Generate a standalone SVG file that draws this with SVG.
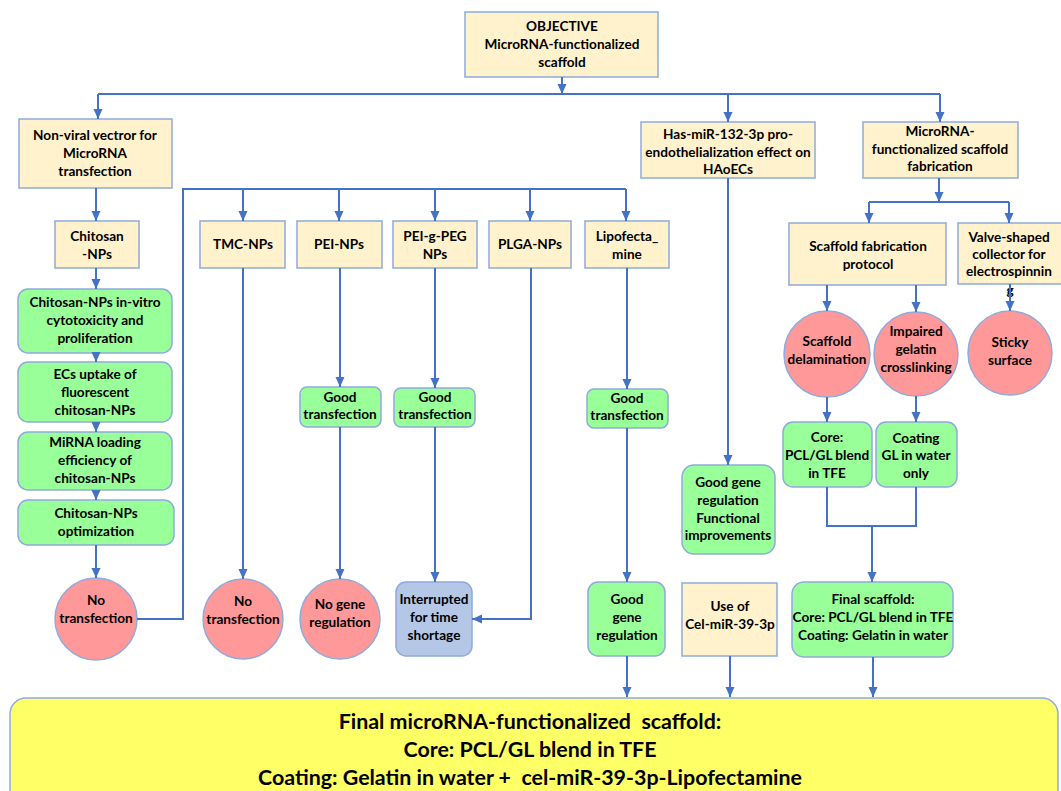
<svg xmlns="http://www.w3.org/2000/svg" width="1061" height="791" viewBox="0 0 1061 791">
<defs>
<marker id="ah" markerUnits="userSpaceOnUse" markerWidth="10" markerHeight="10" viewBox="0 0 10 10" refX="10" refY="5" orient="auto">
<path d="M0,0.5 L10,5 L0,9.5 Z" fill="#4472c4"/>
</marker>
<style>
.box{fill:#fff2cc;stroke:#8faadc;stroke-width:1.5}
.gr{fill:#99ff99;stroke:#8faadc;stroke-width:1.5}
.rd{fill:#ff9999;stroke:#8faadc;stroke-width:1.5}
.bl{fill:#b4c7e7;stroke:#8faadc;stroke-width:1.5}
.ye{fill:#ffff66;stroke:#8faadc;stroke-width:1.5}
text{font-family:Lato,"Liberation Sans",sans-serif;font-weight:bold;font-size:13.6px;text-anchor:middle;fill:#000}
.big{font-size:21.4px}
.c{fill:none;stroke:#4472c4;stroke-width:2}
.a{marker-end:url(#ah)}
</style>
</defs>
<rect width="1061" height="791" fill="#fff"/>

<g id="objective"><rect class="box" x="465" y="12" width="193" height="65"/>
<text x="562" y="31">OBJECTIVE</text><text x="562" y="49">MicroRNA-functionalized</text><text x="562" y="67">scaffold</text></g>

<g id="nonviral"><rect class="box" x="19" y="119" width="153" height="69"/>
<text x="95" y="140">Non-viral vectror for</text><text x="95" y="158">MicroRNA</text><text x="95" y="176">transfection</text></g>

<g id="chitosan"><rect class="box" x="55" y="221" width="84" height="47"/>
<text x="97" y="241">Chitosan</text><text x="97" y="259">-NPs</text></g>

<g id="tmc"><rect class="box" x="200" y="221" width="85" height="47"/><text x="243" y="249">TMC-NPs</text></g>
<g id="pei"><rect class="box" x="297" y="221" width="85" height="47"/><text x="339" y="249">PEI-NPs</text></g>
<g id="peipeg"><rect class="box" x="393" y="221" width="84" height="47"/><text x="435" y="241">PEI-g-PEG</text><text x="435" y="259">NPs</text></g>
<g id="plga"><rect class="box" x="489" y="221" width="82" height="47"/><text x="530" y="249">PLGA-NPs</text></g>
<g id="lipo"><rect class="box" x="585" y="221" width="84" height="47"/><text x="627" y="241">Lipofecta_</text><text x="627" y="259">mine</text></g>

<g id="hasmir"><rect class="box" x="641" y="122" width="174" height="56"/>
<text x="728" y="139">Has-miR-132-3p pro-</text><text x="728" y="157">endothelialization effect on</text><text x="728" y="174">HAoECs</text></g>

<g id="fab"><rect class="box" x="863" y="122" width="155" height="56"/>
<text x="940" y="136">MicroRNA-</text><text x="940" y="154">functionalized scaffold</text><text x="940" y="171">fabrication</text></g>

<g id="protocol"><rect class="box" x="789" y="223" width="157" height="62"/>
<text x="868" y="251">Scaffold fabrication</text><text x="868" y="269">protocol</text></g>

<g id="valve"><rect class="box" x="958" y="223" width="104" height="61"/>
<text x="1009" y="242">Valve-shaped</text><text x="1009" y="259">collector for</text><text x="1009" y="276">electrospinnin</text><text x="1010" y="295">g</text></g>

<g id="green1"><rect class="gr" x="18" y="289" width="154" height="64" rx="10"/>
<text x="95" y="307">Chitosan-NPs in-vitro</text><text x="95" y="325">cytotoxicity and</text><text x="95" y="343">proliferation</text></g>
<g id="green2"><rect class="gr" x="18" y="362" width="154" height="60" rx="10"/>
<text x="95" y="379">ECs uptake of</text><text x="95" y="397">fluorescent</text><text x="95" y="415">chitosan-NPs</text></g>
<g id="green3"><rect class="gr" x="18" y="432" width="154" height="58" rx="10"/>
<text x="95" y="447">MiRNA loading</text><text x="95" y="465">efficiency of</text><text x="95" y="483">chitosan-NPs</text></g>
<g id="green4"><rect class="gr" x="18" y="500" width="156" height="45" rx="10"/>
<text x="96" y="518">Chitosan-NPs</text><text x="96" y="536">optimization</text></g>

<g id="notrans1"><circle class="rd" cx="96" cy="619" r="41"/><text x="96" y="605">No</text><text x="96" y="623">transfection</text></g>
<g id="notrans2"><circle class="rd" cx="243" cy="619" r="40"/><text x="243" y="606">No</text><text x="243" y="624">transfection</text></g>
<g id="nogene"><circle class="rd" cx="340" cy="619" r="40"/><text x="340" y="609">No gene</text><text x="340" y="627">regulation</text></g>

<g id="good1"><rect class="gr" x="300" y="387" width="81" height="40" rx="7"/><text x="340" y="402">Good</text><text x="340" y="419">transfection</text></g>
<g id="good2"><rect class="gr" x="394" y="388" width="81" height="39" rx="7"/><text x="435" y="402">Good</text><text x="435" y="419">transfection</text></g>
<g id="good3"><rect class="gr" x="587" y="389" width="81" height="39" rx="7"/><text x="627" y="403">Good</text><text x="627" y="420">transfection</text></g>

<g id="interrupted"><rect class="bl" x="396" y="582" width="76" height="74" rx="10"/>
<text x="434" y="604">Interrupted</text><text x="434" y="622">for time</text><text x="434" y="640">shortage</text></g>

<g id="goodgene"><rect class="gr" x="588" y="582" width="77" height="74" rx="10"/>
<text x="627" y="604">Good</text><text x="627" y="622">gene</text><text x="627" y="640">regulation</text></g>

<g id="functional"><rect class="gr" x="682" y="465" width="93" height="89" rx="12"/>
<text x="728" y="487">Good gene</text><text x="728" y="505">regulation</text><text x="728" y="523">Functional</text><text x="728" y="540">improvements</text></g>

<g id="celmir"><rect class="box" x="682" y="583" width="95" height="73"/>
<text x="730" y="611">Use of</text><text x="730" y="629">Cel-miR-39-3p</text></g>

<g id="delam"><circle class="rd" cx="827" cy="354" r="43"/><text x="827" y="346">Scaffold</text><text x="827" y="364">delamination</text></g>
<g id="impaired"><circle class="rd" cx="916" cy="354" r="42"/><text x="916" y="336">Impaired</text><text x="916" y="354">gelatin</text><text x="916" y="372">crosslinking</text></g>
<g id="sticky"><circle class="rd" cx="1010" cy="353" r="42"/><text x="1010" y="347">Sticky</text><text x="1010" y="365">surface</text></g>

<g id="core"><rect class="gr" x="783" y="422" width="89" height="65" rx="10"/>
<text x="827" y="442">Core:</text><text x="827" y="460">PCL/GL blend</text><text x="827" y="478">in TFE</text></g>
<g id="coating"><rect class="gr" x="876" y="422" width="81" height="65" rx="10"/>
<text x="916" y="443">Coating</text><text x="916" y="460">GL in water</text><text x="916" y="478">only</text></g>

<g id="finalscaffold"><rect class="gr" x="792" y="582" width="161" height="75" rx="12"/>
<text x="873" y="604">Final scaffold:</text><text x="873" y="622">Core: PCL/GL blend in TFE</text><text x="873" y="640">Coating: Gelatin in water</text></g>

<g id="final"><rect class="ye" x="10" y="698" width="1048" height="120" rx="16"/>
<text class="big" x="530" y="729" xml:space="preserve">Final microRNA-functionalized  scaffold:</text>
<text class="big" x="530" y="757">Core: PCL/GL blend in TFE</text>
<text class="big" x="530" y="785" xml:space="preserve">Coating: Gelatin in water +  cel-miR-39-3p-Lipofectamine</text></g>

<g id="connectors">
<path class="c a" d="M562,77 V94"/>
<path class="c" d="M98,94 H940"/>
<path class="c a" d="M98,94 V119"/>
<path class="c a" d="M728,94 V122"/>
<path class="c a" d="M940,94 V122"/>
<path class="c a" d="M96,188 V221"/>
<path class="c a" d="M96,268 V289"/>
<path class="c a" d="M96,353 V362"/>
<path class="c a" d="M96,422 V432"/>
<path class="c a" d="M96,490 V500"/>
<path class="c a" d="M96,545 V578"/>
<path class="c" d="M137,619 H183 V189 H626"/>
<path class="c a" d="M243,189 V221"/>
<path class="c a" d="M339,189 V221"/>
<path class="c a" d="M435,189 V221"/>
<path class="c a" d="M530,189 V221"/>
<path class="c a" d="M626,189 V221"/>
<path class="c a" d="M243,268 V579"/>
<path class="c a" d="M340,268 V387"/>
<path class="c a" d="M340,427 V579"/>
<path class="c a" d="M435,268 V388"/>
<path class="c a" d="M435,427 V582"/>
<path class="c a" d="M531,268 V619 H472"/>
<path class="c a" d="M627,268 V389"/>
<path class="c a" d="M627,428 V582"/>
<path class="c a" d="M627,656 V697"/>
<path class="c a" d="M728,178 V465"/>
<path class="c a" d="M730,656 V697"/>
<path class="c a" d="M939,178 V202"/>
<path class="c" d="M869,202 H1009"/>
<path class="c a" d="M869,202 V223"/>
<path class="c a" d="M1009,202 V223"/>
<path class="c a" d="M827,285 V311"/>
<path class="c a" d="M916,285 V312"/>
<path class="c a" d="M1010,284 V311"/>
<path class="c a" d="M827,397 V422"/>
<path class="c a" d="M916,396 V422"/>
<path class="c" d="M827,487 V526 H916 V487"/>
<path class="c a" d="M872,526 V582"/>
<path class="c a" d="M873,657 V697"/>
</g>
</svg>
